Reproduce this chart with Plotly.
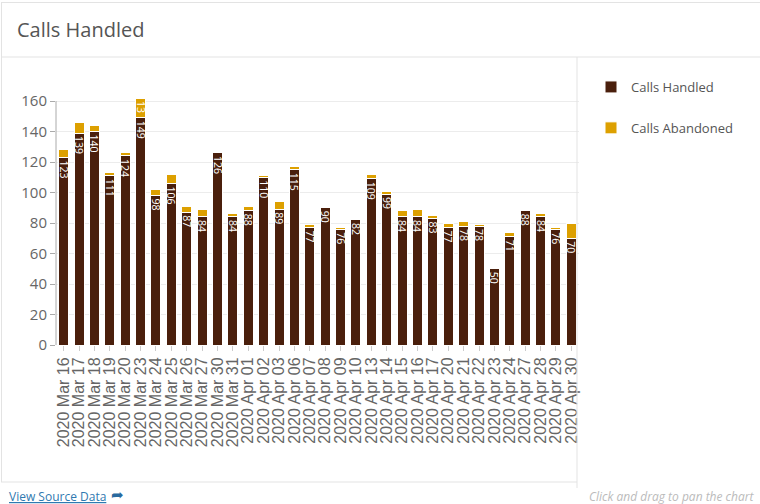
import plotly.graph_objects as go

categories = ["2020 Mar 16", "2020 Mar 17", "2020 Mar 18", "2020 Mar 19", "2020 Mar 20",
              "2020 Mar 23", "2020 Mar 24", "2020 Mar 25", "2020 Mar 26", "2020 Mar 27",
              "2020 Mar 30", "2020 Mar 31", "2020 Apr 01", "2020 Apr 02", "2020 Apr 03",
              "2020 Apr 06", "2020 Apr 07", "2020 Apr 08", "2020 Apr 09", "2020 Apr 10",
              "2020 Apr 13", "2020 Apr 14", "2020 Apr 15", "2020 Apr 16", "2020 Apr 17",
              "2020 Apr 20", "2020 Apr 21", "2020 Apr 22", "2020 Apr 23", "2020 Apr 24",
              "2020 Apr 27", "2020 Apr 28", "2020 Apr 29", "2020 Apr 30"]
calls_handled = [123, 139, 140, 111, 124, 149, 98, 106, 87, 84, 126, 84, 88, 110, 89,
                 115, 77, 90, 76, 82, 109, 99, 84, 84, 83, 77, 78, 78, 50, 71, 88, 84, 76, 70]
calls_abandoned = [5, 7, 4, 2, 2, 13, 4, 6, 4, 5, 1, 2, 3, 1, 5,
                   2, 2, 1, 1, 1, 3, 2, 4, 5, 2, 3, 3, 1, 0, 3, 0, 2, 1, 10]
y_ticks = [0, 20, 40, 60, 80, 100, 120, 140, 160]

W, H = 760, 504
ML, MR, MT, MB = 56, 181, 98, 159
PW, PH = W - ML - MR, H - MT - MB

def px(x):
    return (x - ML) / PW

def py(y):
    return (H - MB - y) / PH

BROWN = "#4a1f0c"
GOLD = "#dda000"

fig = go.Figure()
fig.add_trace(go.Bar(
    x=categories, y=calls_handled, name="Calls Handled",
    marker=dict(color=BROWN, line=dict(color="white", width=1)),
    text=[str(v) for v in calls_handled], textposition="inside",
    insidetextanchor="end", textangle=90,
    textfont=dict(color="white", size=10.5, family="Open Sans"),
    legendgroup="a",
))
fig.add_trace(go.Bar(
    x=categories, y=calls_abandoned, name="Calls Abandoned",
    marker=dict(color=GOLD, line=dict(color="white", width=1)),
    text=[str(v) if v >= 12 else "" for v in calls_abandoned], textposition="inside",
    insidetextanchor="end", textangle=90,
    textfont=dict(color="white", size=10.5, family="Open Sans"),
    legendgroup="b",
))

lc = "#e3e3e3"
shapes = [
    dict(type="line", xref="paper", yref="paper", x0=px(1), x1=px(760), y0=py(2.5), y1=py(2.5), line=dict(color=lc, width=1)),
    dict(type="line", xref="paper", yref="paper", x0=px(1.5), x1=px(1.5), y0=py(2.5), y1=py(482), line=dict(color=lc, width=1)),
    dict(type="line", xref="paper", yref="paper", x0=px(1), x1=px(760), y0=py(57), y1=py(57), line=dict(color=lc, width=1)),
    dict(type="line", xref="paper", yref="paper", x0=px(577), x1=px(577), y0=py(57), y1=py(488), line=dict(color=lc, width=1)),
    dict(type="line", xref="paper", yref="paper", x0=px(1), x1=px(577), y0=py(482), y1=py(482), line=dict(color=lc, width=1)),
    dict(type="line", xref="paper", yref="y", x0=0, x1=0, y0=0, y1=160, line=dict(color="#aaaaaa", width=1)),
]

annotations = [
    dict(xref="paper", yref="paper", x=px(7), y=py(496), xanchor="left", yanchor="middle",
         text="<u>View Source Data</u>", showarrow=False,
         font=dict(family="Open Sans", size=12, color="#2f79b0")),
    dict(xref="paper", yref="paper", x=px(109), y=py(495), xanchor="left", yanchor="middle",
         text="➦", showarrow=False,
         font=dict(family="DejaVu Sans", size=15, color="#2a6a9e")),
    dict(xref="paper", yref="paper", x=px(757), y=py(496), xanchor="right", yanchor="middle",
         text="<i>Click and drag to pan the chart</i>", showarrow=False,
         font=dict(family="Open Sans", size=12, color="#bbbbbb")),
]

fig.update_layout(
    width=W, height=H,
    margin=dict(l=ML, r=MR, t=MT, b=MB),
    barmode="stack", bargap=0.35,
    plot_bgcolor="white", paper_bgcolor="white",
    font=dict(family="Open Sans", color="#555555"),
    title=dict(text="Calls Handled", xref="container", yref="container",
               x=17 / W, xanchor="left", y=1 - 30 / H, yanchor="middle",
               font=dict(family="Open Sans", size=20, color="#555555")),
    legend=dict(xref="container", yref="container", x=591 / W, xanchor="left",
                y=1 - 72 / H, yanchor="top", traceorder="grouped", tracegroupgap=21,
                font=dict(family="Open Sans", size=13, color="#555555"),
                bgcolor="rgba(0,0,0,0)"),
    uniformtext=dict(minsize=10.5, mode="show"),
    shapes=shapes, annotations=annotations,
    xaxis=dict(type="category", tickmode="array", tickvals=categories, ticktext=categories,
               tickangle=-90, ticks="outside", ticklen=5,
               tickcolor="#cccccc", showgrid=False, showline=False,
               tickfont=dict(family="Liberation Sans", size=16, color="#666666")),
    yaxis=dict(range=[0, 162], tickvals=y_ticks, ticks="outside", ticklen=5,
               tickcolor="#aaaaaa", showgrid=True, gridcolor="#ececec",
               showline=False, zeroline=False,
               tickfont=dict(family="Open Sans", size=15, color="#666666")),
)

fig.write_html("out.html")
